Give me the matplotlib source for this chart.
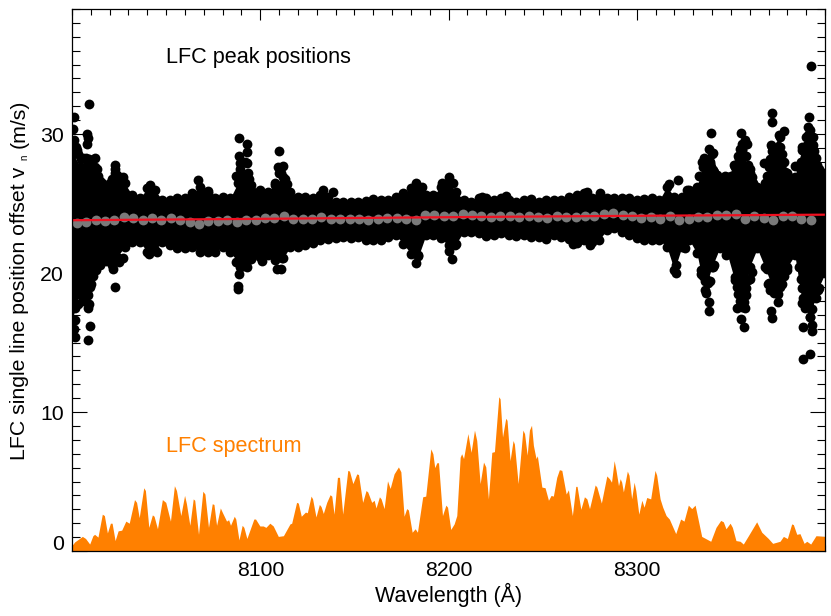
import matplotlib
matplotlib.use("Agg")
import matplotlib.pyplot as plt
from matplotlib.ticker import MultipleLocator
from matplotlib.transforms import ScaledTranslation

plt.rcParams['font.family'] = ['Liberation Sans', 'DejaVu Sans']

# LFC spectrum outline
spec_wave = [8000, 8001.4, 8005.5, 8007.2, 8009.4, 8011.1, 8012, 8013.8, 8016.1, 8017.2, 8018.8, 8020.4, 8021.3,
             8022.9, 8024.5, 8026.4, 8028.6, 8030.4, 8033.2, 8034.3, 8035.7, 8038.1, 8039, 8040.8, 8042.7, 8043.6,
             8045.4, 8048, 8049.8, 8052.3, 8054.4, 8055.5, 8057.8, 8059.8, 8060.8, 8062.6, 8064.4, 8065.2, 8067.2,
             8069.5, 8070.6, 8072.5, 8074.5, 8075.4, 8076.8, 8078.8, 8079.8, 8082.1, 8083.2, 8084.2, 8086.2, 8087,
             8088.7, 8090.4, 8091.3, 8092.9, 8096.6, 8097.5, 8099.8, 8101.6, 8103, 8105.1, 8106.9, 8109.6, 8112.3,
             8115.8, 8116.7, 8119.3, 8120.2, 8121.8, 8124, 8125, 8127, 8127.8, 8129.6, 8131.4, 8132.3, 8133.5,
             8135.3, 8137.1, 8138, 8139.2, 8141, 8142.1, 8143.8, 8146.5, 8147.4, 8149.2, 8151.3, 8152.2, 8154.4,
             8156.2, 8157.1, 8159.2, 8160.5, 8161.5, 8163.3, 8164.2, 8165.8, 8167.6, 8169, 8171.1, 8173.4, 8174.7,
             8176.4, 8177.8, 8178.7, 8180.7, 8182.3, 8183.5, 8186.3, 8187.9, 8190.6, 8191.7, 8192.7, 8193.8, 8194.7,
             8196.8, 8198.6, 8199.5, 8201.2, 8203, 8204.4, 8206.2, 8207, 8208, 8210.3, 8212, 8213.8, 8215, 8216.8,
             8218.6, 8219.8, 8221.2, 8223, 8224.4, 8226.7, 8227.4, 8228.7, 8230.4, 8231.1, 8232.7, 8234.3, 8235,
             8237, 8239.5, 8240.4, 8241.8, 8243, 8244.1, 8245.1, 8246.5, 8247.2, 8249.6, 8251.3, 8253.1, 8254.5,
             8255.7, 8257.5, 8258.9, 8260.2, 8262.5, 8263.7, 8265.8, 8267.6, 8268.3, 8270.3, 8272.2, 8273.5, 8274.9,
             8277.9, 8278.8, 8281.2, 8284.1, 8285.5, 8286.6, 8288, 8289, 8290.3, 8291.2, 8292, 8292.9, 8295, 8295.9,
             8297.3, 8298.6, 8299.5, 8301.1, 8302.7, 8303.9, 8305.3, 8307.4, 8309.7, 8310.6, 8312.4, 8313.8, 8315.6,
             8317.3, 8320.7, 8323.3, 8325.1, 8327.4, 8329.2, 8331, 8334.5, 8339.3, 8342.1, 8344.6, 8346, 8347.4,
             8349.6, 8350.8, 8352.7, 8354.9, 8356.6, 8359.3, 8363.7, 8366.4, 8369.9, 8372.2, 8376.1, 8377.9, 8380,
             8382.3, 8383.2, 8385, 8386.7, 8388.9, 8390.3, 8392.4, 8395.2, 8400]
spec_flux = [0.4, 0.65, 1.05, 0.9, 0.5, 1.1, 1.2, 1.0, 2.65, 2.55, 1.3, 2.0, 2.0,
             0.75, 1.45, 1.5, 2.15, 2.0, 3.7, 3.5, 2.4, 4.55, 4.35, 1.7, 2.6, 2.5,
             1.6, 3.7, 3.5, 2.15, 4.7, 4.35, 2.55, 4.0, 3.4, 1.85, 3.75, 3.65, 1.2,
             4.3, 4.1, 1.7, 3.4, 3.35, 1.85, 3.1, 2.8, 2.15, 2.25, 1.85, 2.5, 2.3,
             0.8, 1.85, 1.7, 0.9, 2.3, 2.3, 1.8, 1.8, 1.7, 2.0, 1.8, 1.05, 1.1,
             1.95, 2.0, 3.5, 3.45, 2.5, 2.8, 2.75, 3.95, 3.75, 2.45, 3.35, 3.2, 2.7,
             3.5, 4.05, 3.95, 2.65, 5.3, 5.3, 2.65, 5.8, 5.75, 4.85, 5.55, 5.5, 3.5,
             4.35, 4.25, 3.5, 3.65, 3.1, 3.9, 3.75, 3.05, 5.05, 4.5, 5.55, 6.05, 5.7,
             2.5, 3.05, 2.95, 1.35, 1.6, 1.35, 3.9, 3.95, 7.35, 7.0, 6.0, 6.35, 6.35,
             2.55, 3.3, 3.15, 1.55, 1.95, 2.55, 6.75, 7.0, 6.65, 8.45, 7.1, 8.7, 7.95, 4.85,
             6.4, 6.05, 3.75, 7.1, 7.15, 11.1, 10.95, 8.2, 9.55, 9.4, 6.5, 7.95, 7.7,
             4.85, 8.7, 8.45, 6.9, 8.7, 9.05, 7.6, 6.65, 6.85, 4.6, 4.55, 3.65, 4.0,
             3.95, 5.3, 5.85, 5.8, 4.1, 4.4, 2.55, 4.65, 4.65, 3.0, 3.9, 3.75, 3.05,
             4.75, 4.6, 3.45, 5.4, 5.2, 4.95, 6.5, 5.8, 4.7, 5.2, 4.95, 4.25, 5.75, 5.45,
             3.75, 4.95, 4.35, 2.65, 3.65, 3.15, 3.85, 3.75, 5.8, 5.45, 3.75, 3.15, 2.55,
             2.3, 1.25, 2.3, 2.15, 3.3, 3.05, 3.3, 1.05, 0.7, 1.7, 2.2, 2.1, 1.6,
             2.0, 1.7, 0.75, 0.7, 0.5, 1.1, 2.1, 1.35, 0.9, 0.55, 0.7, 1.05, 0.9,
             1.95, 1.9, 1.2, 1.25, 0.55, 0.7, 0.5, 1.1, 1.05]

# edges of the dense black band, one pair every 4 A
band_wave = list(range(8000, 8404, 4))
band_top = [28.85, 27.65, 28.13, 27.65, 26.45, 26.45, 27.05, 26.45, 25.61, 25.37, 26.09, 25.97, 25.25, 25.25, 25.37,
            25.37, 25.73, 26.21, 25.73, 25.37, 25.49, 25.37, 26.45, 26.93, 25.85, 25.97, 25.85, 26.33, 26.93, 25.85,
            25.49, 25.49, 25.37,
            25.6, 25.5, 25.13, 25.13, 25.13, 25.13, 25.2, 25.3, 25.25, 25.25, 25.5, 25.73, 26.09, 26.2, 25.6, 25.6,
            26.2, 26.57, 25.85, 25.25, 25.13, 25.37, 25.37, 25.25, 25.37, 25.25, 25.13, 25.25, 25.3, 25.13, 25.25,
            25.25, 25.25, 25.5, 25.6, 25.73, 25.37,
            25.49, 25.37, 25.37, 25.37, 25.37, 25.25, 25.3, 25.37, 25.25, 26.21, 25.49, 25.49, 25.97, 26.21, 28.13,
            28.6, 26.8, 26.9, 27.77, 28.85, 27.17, 26.21, 26.45, 29.09, 29.8, 27.17, 26.9, 29.09, 30.3, 27.65, 27.17]
band_low = [16.6, 18.53, 18.53, 20.45, 20.93, 21.29, 21.17, 21.89, 22.25, 22.25, 21.53, 21.65, 22.25, 22.01, 21.77,
            21.77, 21.89, 21.53, 21.53, 21.53, 21.89, 21.53, 20.81, 21.17, 21.29, 21.17, 21.29, 20.93, 21.05, 21.89,
            21.89, 22.01, 22.13,
            22.37, 22.42, 22.5, 22.57, 22.5, 22.57, 22.4, 22.4, 22.4, 22.6, 22.73, 22.1, 21.4, 21.2, 22.73, 22.73,
            22.5, 22.0, 22.1, 22.97, 22.97, 22.85, 22.66, 22.73, 22.85, 22.73, 22.66, 22.73, 22.57, 22.57, 22.42,
            22.73, 22.6, 22.42, 22.18, 22.37, 22.25,
            22.37, 23.09, 23.21, 22.97, 22.73, 22.49, 22.37, 22.37, 22.37, 21.89, 20.21, 21.89, 22.37, 21.41, 18.77,
            20.45, 21.77, 21.41, 19.5, 17.57, 20.45, 21.77, 20.45, 19.0, 19.13, 20.45, 21.29, 17.82, 16.86, 18.77,
            19.97]

# single points standing clear of the band
out_wave = [8008.8, 8001.2, 8000.7, 8007.8, 8008.6, 8007.8, 8002.4, 8007.4, 8012.2, 8013.1, 8022.8, 8022.8, 8027.2,
            8041.4, 8067, 8072.4, 8088.8, 8093.2, 8092.7, 8088.6, 8089.2, 8089.2, 8093.2, 8093.6, 8109.9, 8109.5,
            8112.2, 8022.8, 8021.9, 8008.6, 8009.5, 8008.6, 8001.6, 8001.6, 8001.6, 8002.4, 8009.5, 8008.6, 8088.6,
            8088.3, 8088.3, 8092.7, 8100.7, 8108.7, 8110.8, 8111.3, 8041, 8044.9,
            8133.1, 8138.4, 8182.5, 8185.7, 8200.4, 8196.7, 8202.5, 8183, 8183.9, 8201.6, 8200.2, 8203.4, 8217.6,
            8230.5, 8265.9,
            8392.6, 8391.7, 8391.1, 8393.8, 8393.8, 8390.3, 8387.6, 8395.2, 8397, 8384.1, 8371.9, 8371.9, 8378.2,
            8375.7, 8371.1, 8376.1, 8373.4, 8367.8, 8355.6, 8357.5, 8358.8, 8355.7, 8354.5, 8351.7, 8360.2, 8339.3,
            8338.6, 8340.3, 8335.7, 8334.5, 8340.7, 8346.9, 8342.5, 8317.2, 8321.8, 8326.9, 8273.4, 8280.5, 8275.2,
            8321.1, 8320.9, 8325.7, 8334, 8336.6, 8338.6, 8338.6, 8340.3, 8347.3, 8353.1, 8357.5, 8355.2, 8357, 8358,
            8360.2, 8371.1, 8371.7, 8375.2, 8372.2, 8376.1, 8379.6, 8369, 8388.1, 8392.9, 8393.3, 8392, 8388.5, 8392,
            8388.5, 8389.4, 8396.5, 8398.3]
out_val = [32.2, 31.2, 30.4, 30.0, 29.7, 29.3, 28.85, 28.3, 28.25, 27.5, 27.8, 27.5, 26.9,
           26.3, 26.7, 25.9, 29.7, 29.3, 28.7, 28.4, 27.9, 27.5, 27.9, 27.2, 28.8, 27.6,
           27.7, 19.0, 20.3, 17.45, 16.2, 15.2, 15.4, 16.6, 17.45, 18.8, 19.0, 18.4, 19.9,
           19.1, 18.85, 20.4, 20.9, 20.3, 20.3, 21.05, 21.4, 21.5,
           25.97, 25.8, 26.5, 26.2, 26.9, 26.45, 26.5, 20.7, 21.3, 20.98, 21.6, 22.0, 25.5,
           25.54, 22.1,
           34.9, 31.24, 30.5, 29.76, 29.2, 29.2, 28.85, 28.25, 27.5, 27.7, 31.5, 30.86, 30.2,
           29.9, 29.2, 29.1, 28.4, 27.9, 30.1, 29.6, 29.3, 28.9, 28.25, 27.8, 27.5, 30.1,
           28.9, 28.65, 28.3, 28.0, 27.4, 26.97, 27.05, 26.4, 26.7, 26.0, 25.8, 25.73, 22.0,
           19.97, 20.57, 21.77, 19.9, 18.6, 17.9, 17.3, 20.4, 21.3, 17.5, 17.5, 16.7, 16.1, 18.9,
           19.6, 17.3, 16.8, 17.9, 18.8, 19.0, 20.2, 20.3, 16.1, 15.8, 16.25, 16.85, 13.8, 14.2,
           18.2, 17.5, 18.8, 20.1]

# points inside the spikes, so they fill out like in the picture
spike_wave = [8333, 8335, 8337, 8338, 8339, 8341, 8343, 8350, 8352, 8353, 8354, 8355, 8356, 8357, 8358, 8359, 8361, 8362,
              8369, 8370, 8371, 8372, 8373, 8374, 8375, 8376, 8377, 8378, 8379, 8381, 8386, 8387, 8389, 8390, 8391,
              8392, 8393, 8394, 8395, 8396, 8398, 8399,
              8334, 8335, 8336, 8337, 8338, 8339, 8341, 8352, 8353, 8354, 8355, 8356, 8357, 8358, 8359, 8361,
              8369.5, 8370, 8371, 8373, 8374, 8375, 8377, 8378, 8386, 8387, 8388, 8389, 8390, 8391, 8393, 8394, 8395,
              8397, 8399,
              8001, 8002, 8003, 8005, 8006, 8009, 8010, 8011, 8014, 8015, 8021, 8023, 8025, 8026,
              8001, 8003, 8005, 8006, 8007, 8009, 8010, 8011, 8013, 8015, 8018, 8021, 8023, 8025, 8027,
              8087, 8088, 8090, 8091, 8092, 8094, 8095, 8108, 8110, 8111, 8113, 8114,
              8087, 8089, 8091, 8093, 8095]
spike_val = [27.0, 27.6, 27.8, 27.6, 28.0, 27.3, 26.8, 27.0, 27.6, 27.8, 28.4, 28.9, 29.3, 28.4, 28.4, 27.8, 26.9, 26.5,
             27.0, 27.6, 28.2, 28.8, 28.0, 28.0, 28.6, 28.3, 28.6, 28.0, 27.3, 26.9, 27.6, 28.0, 28.8, 29.8, 29.9,
             29.8, 29.0, 28.8, 27.7, 27.8, 27.1, 26.9,
             20.2, 19.8, 19.4, 19.6, 19.3, 19.4, 20.6, 19.7, 19.0, 18.5, 18.0, 18.0, 17.9, 18.4, 19.5, 20.1,
             19.2, 19.3, 18.8, 18.6, 18.6, 18.5, 19.2, 19.8, 20.4, 19.6, 18.9, 18.0, 17.9, 17.6, 17.4, 18.3, 18.2,
             18.9, 20.1,
             29.6, 29.1, 28.6, 28.2, 28.3, 28.2, 28.0, 27.6, 27.0, 26.6, 26.8, 27.2, 26.8, 26.8,
             16.0, 17.8, 18.4, 18.0, 18.0, 17.8, 19.2, 19.8, 20.2, 20.6, 20.9, 20.6, 20.9, 20.8, 21.1,
             27.0, 27.0, 26.9, 27.0, 28.0, 26.8, 26.3, 26.5, 27.2, 27.2, 26.8, 26.4,
             20.8, 20.4, 20.5, 20.9, 21.0]

# grey binned points, one every 5 A from 8002.5
grey_wave = [8002.5 + 5 * i for i in range(79)]
grey_val = [23.58, 23.66, 23.8, 23.73, 23.82, 24.02, 23.97, 23.82, 23.94, 23.85, 23.94, 23.82, 23.66, 23.56, 23.73,
            23.73, 23.82, 23.66, 23.85, 23.8, 23.99, 23.97, 24.11, 23.92, 23.87, 23.92,
            24.03, 23.86, 23.86, 23.88, 23.88, 23.79, 23.88, 23.98, 23.95, 23.91, 23.81, 24.15, 24.15, 24.1, 24.1,
            24.22, 24.15, 24.1, 24.05, 24.12, 24.1, 24.05, 24.12, 24.0, 23.93, 24.07, 24.0, 24.05, 24.12, 24.1,
            24.24, 24.29, 24.17, 24.12, 23.93, 24.0, 23.91, 24.1, 23.83, 23.86, 24.0, 24.0, 24.19, 24.17, 24.22,
            23.91, 24.07, 23.93, 23.79, 24.1, 24.07, 23.86, 23.81]

# red fit
fit_wave = [8000, 8100, 8200, 8300, 8400]
fit_val = [23.8, 23.9, 24.02, 24.12, 24.2]

xticks = [8100, 8200, 8300]
yticks = [0, 10, 20, 30]

fig = plt.figure(figsize=(8.31, 6.16), dpi=100)
ax = fig.add_axes([72 / 831, 1 - 551 / 616, (825 - 72) / 831, (551 - 9) / 616])

ax.fill_between(spec_wave, 0, spec_flux, color='#FF8000', lw=0, zorder=2)

ax.fill_between(band_wave, band_low, band_top, color='black', lw=0, zorder=3)
ax.scatter(band_wave, band_top, s=50, color='black', lw=0, zorder=3)
ax.scatter(band_wave, band_low, s=50, color='black', lw=0, zorder=3)
ax.scatter(out_wave, out_val, s=50, color='black', lw=0, zorder=3)
ax.scatter(spike_wave, spike_val, s=50, color='black', lw=0, zorder=3)
ax.scatter(grey_wave, grey_val, s=50, color='#7A7A7A', lw=0, zorder=4)
ax.plot(fit_wave, fit_val, color='#F01020', lw=1.6, zorder=5)

ax.set_xlim(8000, 8400)
ax.set_ylim(0, 39)
ax.set_xticks(xticks)
ax.set_yticks(yticks)
ax.xaxis.set_minor_locator(MultipleLocator(10))
ax.yaxis.set_minor_locator(MultipleLocator(1))
ax.tick_params(axis='x', which='major', direction='in', top=True, length=7.7, width=0.8, labelsize=15.3, pad=7.5)
ax.tick_params(axis='x', which='minor', direction='in', top=True, length=4, width=0.8)
ax.tick_params(axis='y', which='major', direction='in', right=True, length=10.8, width=0.8, labelsize=15.3, pad=6)
ax.tick_params(axis='y', which='minor', direction='in', right=True, length=5.5, width=0.8)

# the 0 label sits above the axis corner
zero_label = ax.get_yticklabels()[0]
zero_label.set_va('center')
zero_label.set_transform(zero_label.get_transform() + ScaledTranslation(0, 7 / 100, fig.dpi_scale_trans))

for s in ax.spines.values():
    s.set_linewidth(0.9)
    s.set_zorder(6)

ax.set_xlabel("Wavelength (Å)", fontsize=15.5, labelpad=2)

# y label in three pieces because the subscript is very small
label_args = dict(rotation=90, rotation_mode='anchor', ha='left', va='baseline')
fig.text(25 / 831, 1 - 460 / 616, "LFC single line position offset v", fontsize=15.3, **label_args)
fig.text(27 / 831, 1 - 159.5 / 616, "n", fontsize=7, **label_args)
fig.text(25 / 831, 1 - 148 / 616, "(m/s)", fontsize=15.3, **label_args)

ax.text(8050, 35.5, "LFC peak positions", fontsize=15.6, ha='left', va='center', color='black', zorder=7)
ax.text(8050, 7.5, "LFC spectrum", fontsize=15.6, ha='left', va='center', color='#FF8000', zorder=7)

fig.savefig("out.png", dpi=100)
